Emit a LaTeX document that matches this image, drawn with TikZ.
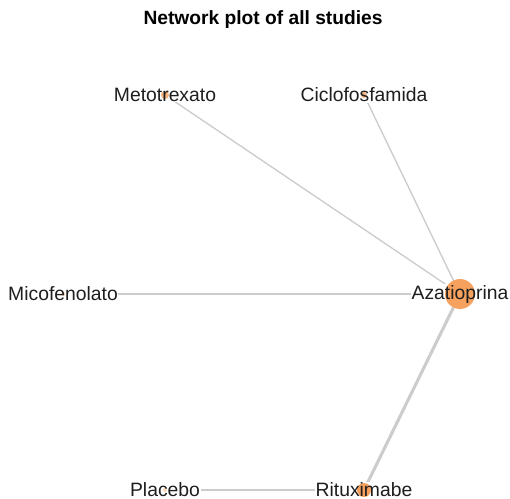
\documentclass[tikz,border=0pt]{standalone}
\usepackage{fontspec}
\setmainfont{Liberation Sans}
\definecolor{edgegray}{RGB}{204,204,204}
\definecolor{dotorange}{RGB}{246,162,94}
\definecolor{labeltext}{RGB}{30,30,30}
\tikzset{
  edge/.style={edgegray, line width=1pt},
  thickedge/.style={edgegray, line width=2.3pt},
  lblbox/.style={fill=white, inner sep=0.5pt, text opacity=0, font=\fontsize{14.5}{16}\selectfont},
  lbl/.style={inner sep=0.5pt, text=labeltext, font=\fontsize{14.5}{16}\selectfont},
}
\begin{document}
\begin{tikzpicture}[x=0.75pt, y=-0.75pt]
    \useasboundingbox[fill=white] (0,0) rectangle (510,499);

    % title
    \node[font=\bfseries\fontsize{14.4}{16}\selectfont, text=black] (title) at (263,20) {Network plot of all studies};

    % treatment positions
    \coordinate (met) at (165,95);
    \coordinate (cic) at (364,95);
    \coordinate (mic) at (63,294);
    \coordinate (aza) at (460,294);
    \coordinate (pla) at (165,490);
    \coordinate (rit) at (364,490);

    % comparisons
    \draw[edge] (met) -- (aza);
    \draw[edge] (cic) -- (aza);
    \draw[edge] (mic) -- (aza);
    \draw[thickedge] (rit) -- (aza);
    \draw[edge] (pla) -- (rit);

    % white boxes behind labels
    \node[lblbox] (metB) at (met) {Metotrexato};
    \node[lblbox] (cicB) at (cic) {Ciclofosfamida};
    \node[lblbox] (micB) at (mic) {Micofenolato};
    \node[lblbox] (azaB) at (aza) {Azatioprina};
    \node[lblbox] (plaB) at (pla) {Placebo};
    \node[lblbox] (ritB) at (rit) {Rituximabe};

    % treatment dots
    \fill[dotorange, opacity=0.8] (met) circle (4);
    \fill[dotorange, opacity=0.8] (cic) circle (3);
    \fill[dotorange, opacity=0.4] (mic) circle (2);
    \fill[dotorange] (aza) circle (15);
    \fill[dotorange, opacity=0.4] (pla) circle (2);
    \fill[dotorange] (rit) circle (7);

    % labels
    \node[lbl] (metL) at (met) {Metotrexato};
    \node[lbl] (cicL) at (cic) {Ciclofosfamida};
    \node[lbl] (micL) at (mic) {Micofenolato};
    \node[lbl] (azaL) at (aza) {Azatioprina};
    \node[lbl] (plaL) at (pla) {Placebo};
    \node[lbl] (ritL) at (rit) {Rituximabe};
\end{tikzpicture}
\end{document}
